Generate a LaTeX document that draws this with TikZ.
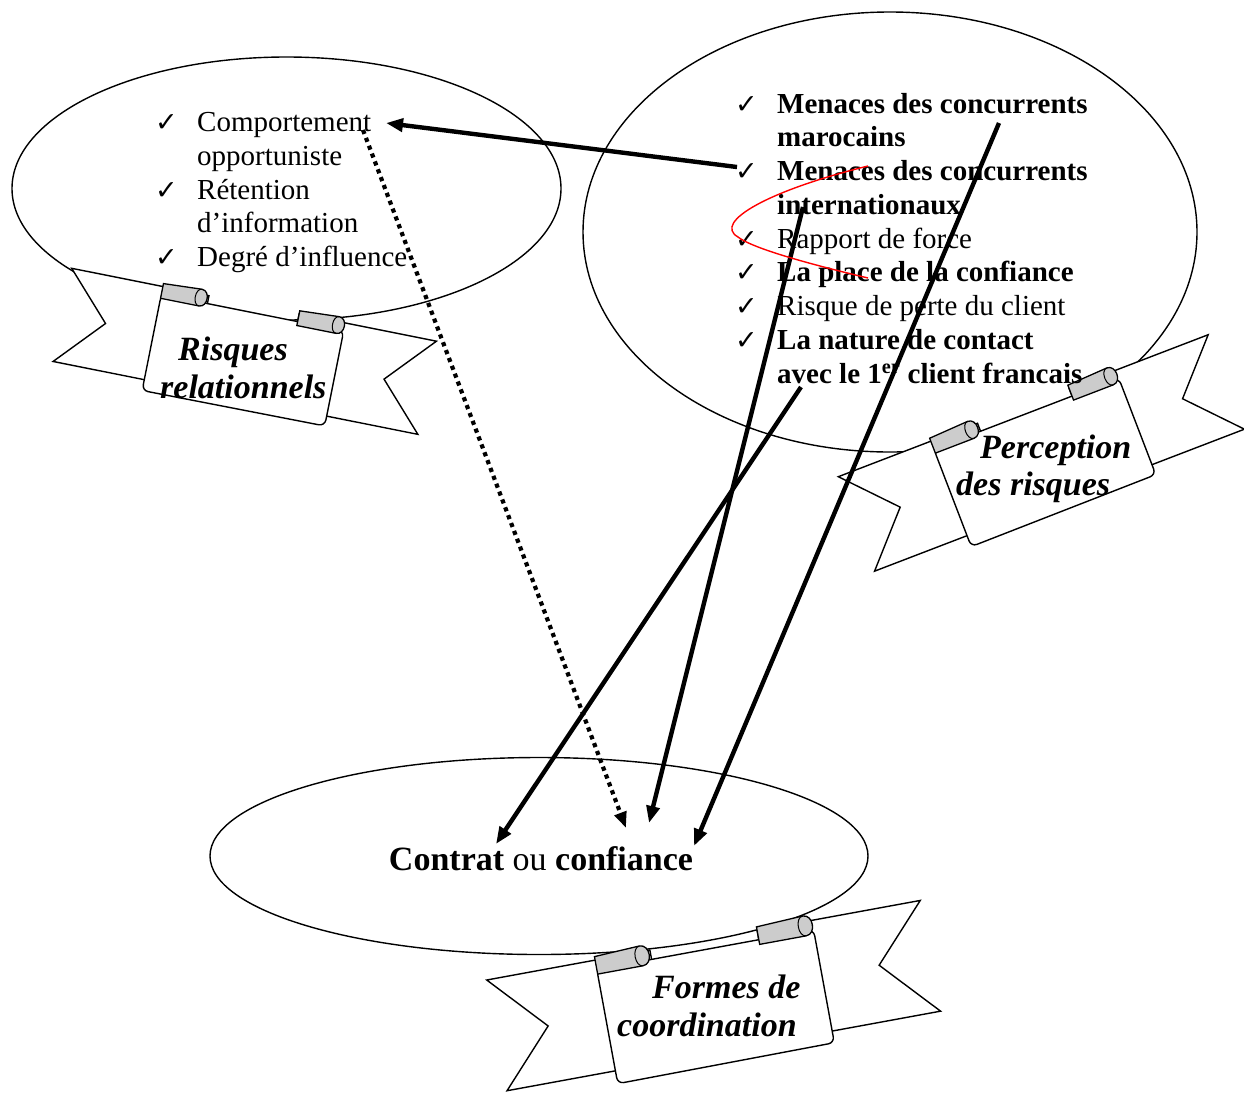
\documentclass[tikz,border=0pt]{standalone}
\usepackage{fontspec}
\setmainfont{Liberation Serif}
\newfontfamily\checkfam{DejaVu Sans}
\usetikzlibrary{arrows.meta,shapes.geometric}

\definecolor{rollgrey}{gray}{0.80}
\newcommand\ck{\makebox[42pt][l]{\checkfam\fontsize{27}{27}\selectfont ✓}}
\newcommand\listsize{\fontsize{29}{33.75}\selectfont}

\tikzset{
  bubble/.style={ellipse, draw=black, line width=1.4pt, inner sep=0pt},
  bline/.style={draw=black, line width=1.4pt, fill=white},
  rollpart/.style={draw=black, line width=1.3pt, fill=rollgrey},
  bantext/.style={font=\fontsize{34}{38}\selectfont\bfseries\itshape, inner sep=0pt, anchor=base west},
  listnode/.style={font=\listsize, inner sep=0pt, anchor=base west},
  link/.style={line width=4.4pt, -{Triangle[length=17pt,width=13pt]}},
  dotlink/.style={line width=4.2pt, dash pattern=on 4.2pt off 4.2pt, -{Triangle[length=16pt,width=12pt]}},
  % scroll banner: two notched wings behind a front panel with rolled top corners
  ribbon/.pic={
    \path[bline] (0,0) -- (140,0) -- (140,95) -- (0,95) -- (44,47.5) -- cycle;
    \path[bline] (232,0) -- (372,0) -- (328,47.5) -- (372,95) -- (232,95) -- cycle;
    \path[bline, rounded corners=6pt] (93,8) -- (93,106) -- (279,105) -- (279,8) -- cycle;
    \path[rollpart] (93,12) -- (93,-3) -- (132,-5) .. controls (141,-5) and (141,12) .. (132,12) -- cycle;
    \draw[line width=1pt] (132,-5) .. controls (125,-5) and (125,12) .. (132,12);
    \path[rollpart] (232,12) -- (232,-3) -- (272,-5) .. controls (281,-5) and (281,12) .. (272,12) -- cycle;
    \draw[line width=1pt] (272,-5) .. controls (265,-5) and (265,12) .. (272,12);
  }
}

\begin{document}
\begin{tikzpicture}[x=1pt,y=-1pt]
\useasboundingbox (0,0) rectangle (1244,1093);
\fill[white] (0,0) rectangle (1244,1093);

% the three groups
\node[bubble, minimum width=549pt, minimum height=263pt] (rel) at (286.5,188.5) {};
\node[bubble, minimum width=614pt, minimum height=440pt] (perc) at (890,232) {};
\node[bubble, minimum width=658pt, minimum height=197pt] (coord) at (539,856) {};

% banners
\pic[rotate=-11.3] at (71.7,268.3) {ribbon};
\pic[rotate=21, scale=1.065] at (838.3,476.7) {ribbon};
\pic[rotate=10.4, scale=1.185] at (486.7,980) {ribbon};

\node[bantext] (b1a) at (178,360) {Risques};
\node[bantext] (b1b) at (160,398) {relationnels};
\node[bantext] (b2a) at (980,458) {Perception};
\node[bantext] (b2b) at (956,495) {des risques};
\node[bantext] (b3a) at (652,998) {Formes de};
\node[bantext] (b3b) at (617,1036) {coordination};

% lists
\node[listnode] (rellist) at (155,131.7) {\begin{tabular}[t]{@{}l@{}l@{}}
\ck & Comportement\\
    & opportuniste\\
\ck & Rétention\\
    & d’information\\
\ck & Degré d’influence
\end{tabular}};

\node[listnode] (perclist) at (735,113) {\begin{tabular}[t]{@{}l@{}l@{}}
\ck & \textbf{Menaces des concurrents}\\
    & \textbf{marocains}\\
\ck & \textbf{Menaces des concurrents}\\
    & \textbf{internationaux}\\
\ck & Rapport de force\\
\ck & \textbf{La place de la confiance}\\
\ck & Risque de perte du client\\
\ck & \textbf{La nature de contact}\\
    & \textbf{avec le 1\textsuperscript{er} client francais}
\end{tabular}};

\node[font=\fontsize{34}{40}\selectfont, inner sep=0pt, anchor=base] (cc) at (541,870)
  {\textbf{Contrat} ou \textbf{confiance}};

% connector end points
\coordinate (intl) at (737,167);
\coordinate (comp) at (386,123);
\coordinate (compdot) at (363,130);
\coordinate (ccdot) at (626,828);
\coordinate (natsrc) at (801,387);
\coordinate (ccleft) at (496,844);
\coordinate (intsrc) at (803,207);
\coordinate (ccmid) at (649,823);
\coordinate (marsrc) at (999,123);
\coordinate (ccright) at (694,846);

\draw[link] (intl) -- (comp);
\draw[dotlink] (compdot) -- (ccdot);
\draw[link] (natsrc) -- (ccleft);
\draw[link] (intsrc) -- (ccmid);
\draw[link] (marsrc) -- (ccright);

% red loop
\draw[red, line width=1.4pt] (868,166) .. controls (770,190) and (712,222) .. (738,237)
  .. controls (752,248) and (805,263) .. (868,278);
\end{tikzpicture}
\end{document}
